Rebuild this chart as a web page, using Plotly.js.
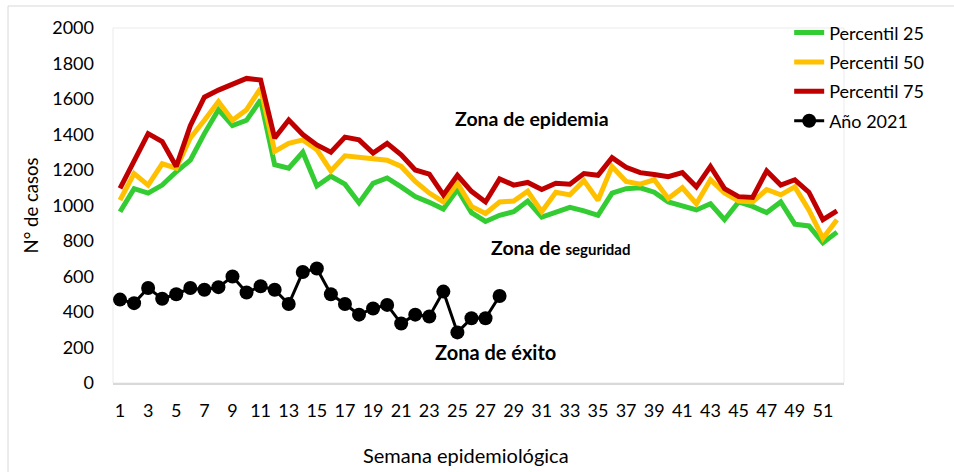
<!DOCTYPE html>
<html>
<head>
<meta charset="utf-8">
<script src="https://cdn.plot.ly/plotly-3.0.1.min.js"></script>
<style>html,body{margin:0;padding:0;background:#fff;}#chart{width:954px;height:472px;}</style>
</head>
<body>
<div id="chart"></div>
<script>
const weeks = Array.from({length: 52}, (_, i) => i + 1);
const p25 = [965,1095,1070,1115,1190,1255,1405,1540,1450,1480,1595,1230,1210,1300,1110,1165,1120,1015,1125,1155,1105,1050,1018,980,1090,960,910,945,965,1025,935,960,990,970,945,1070,1095,1100,1075,1020,995,975,1010,920,1020,995,960,1020,895,885,790,850];
const p50 = [1030,1180,1115,1235,1210,1380,1480,1585,1480,1540,1660,1305,1350,1370,1315,1195,1280,1270,1262,1255,1220,1135,1070,1020,1125,995,955,1020,1025,1080,965,1075,1060,1140,1030,1220,1135,1120,1145,1040,1100,1010,1145,1070,1025,1020,1090,1060,1105,975,815,920];
const p75 = [1097,1245,1405,1360,1220,1450,1610,1650,1685,1716,1707,1380,1482,1400,1341,1300,1385,1370,1295,1350,1285,1200,1177,1060,1170,1080,1020,1150,1115,1130,1090,1125,1120,1180,1170,1270,1215,1185,1175,1162,1185,1105,1220,1095,1050,1045,1195,1115,1145,1075,920,970];
const weeks2021 = weeks.slice(0, 28);
const y2021 = [470,450,535,475,500,535,525,540,600,510,545,525,445,625,645,500,445,385,420,440,335,385,375,515,285,365,365,490];
const tickVals = [1,3,5,7,9,11,13,15,17,19,21,23,25,27,29,31,33,35,37,39,41,43,45,47,49,51];
const tickText = tickVals.map(String);
const seriesNames = ['Percentil 25','Percentil 50','Percentil 75','Año 2021'];

const FONT = 'Lato, "Open Sans", sans-serif';

const traces = [
  {x: weeks, y: p25, name: seriesNames[0], mode: 'lines', legendgroup: 'a', line: {color: '#33CC33', width: 5}},
  {x: weeks, y: p50, name: seriesNames[1], mode: 'lines', legendgroup: 'b', line: {color: '#FFC000', width: 5}},
  {x: weeks, y: p75, name: seriesNames[2], mode: 'lines', legendgroup: 'c', line: {color: '#C00000', width: 5}},
  {x: weeks2021, y: y2021, name: seriesNames[3], mode: 'lines+markers', legendgroup: 'd',
   line: {color: '#000000', width: 3}, marker: {color: '#000000', size: 14}}
];

const layout = {
  width: 954, height: 472,
  margin: {l: 113, r: 110, t: 28, b: 89},
  paper_bgcolor: '#ffffff', plot_bgcolor: '#ffffff',
  font: {family: FONT, size: 18, color: '#000000'},
  showlegend: true,
  legend: {x: 0.925, xanchor: 'left', y: 1.0385, yanchor: 'top', bgcolor: 'rgba(0,0,0,0)',
           font: {family: FONT, size: 18, color: '#000'}, tracegroupgap: 3, traceorder: 'grouped'},
  xaxis: {range: [0.5, 52.5], tickmode: 'array', tickvals: tickVals, ticktext: tickText,
          showgrid: false, zeroline: false, showline: true, linecolor: '#d9d9d9', linewidth: 2,
          ticks: '', ticklabelstandoff: 10, tickfont: {family: FONT, size: 18}},
  yaxis: {range: [0, 2000], dtick: 200, tick0: 0, showgrid: false, zeroline: false, showline: false,
          ticks: '', ticklabelstandoff: 18, tickfont: {family: FONT, size: 18},
          title: {text: 'N° de casos', font: {family: FONT, size: 18.5}, standoff: 8}},
  shapes: [
    {type: 'rect', xref: 'paper', yref: 'paper', x0: 0, x1: 1, y0: 0, y1: 1, line: {color: '#ebebeb', width: 1}, layer: 'below'},
    {type: 'rect', xref: 'paper', yref: 'paper', x0: -0.1436, x1: 1.2, y0: -0.3, y1: 1.062, line: {color: '#d9d9d9', width: 1}, layer: 'below'}
  ],
  annotations: [
    {xref: 'paper', yref: 'paper', x: 0.573, y: 0.746, xanchor: 'center', yanchor: 'middle',
     text: '<b>Zona de epidemia</b>', showarrow: false, font: {family: FONT, size: 19.5, color: '#000'}},
    {xref: 'paper', yref: 'paper', x: 0.6115, y: 0.383, xanchor: 'center', yanchor: 'middle',
     text: '<b>Zona de <span style="font-size:15px">seguridad</span></b>', showarrow: false,
     font: {family: FONT, size: 19.5, color: '#000'}},
    {xref: 'paper', yref: 'paper', x: 0.5226, y: 0.0873, xanchor: 'center', yanchor: 'middle',
     text: '<b>Zona de éxito</b>', showarrow: false, font: {family: FONT, size: 20, color: '#000'}},
    {xref: 'paper', yref: 'paper', x: 0.483, y: -0.203, xanchor: 'center', yanchor: 'middle',
     text: 'Semana epidemiológica', showarrow: false, font: {family: FONT, size: 20, color: '#000'}}
  ],
  hovermode: false
};

Plotly.newPlot('chart', traces, layout, {displayModeBar: false, staticPlot: true});
</script>
</body>
</html>
